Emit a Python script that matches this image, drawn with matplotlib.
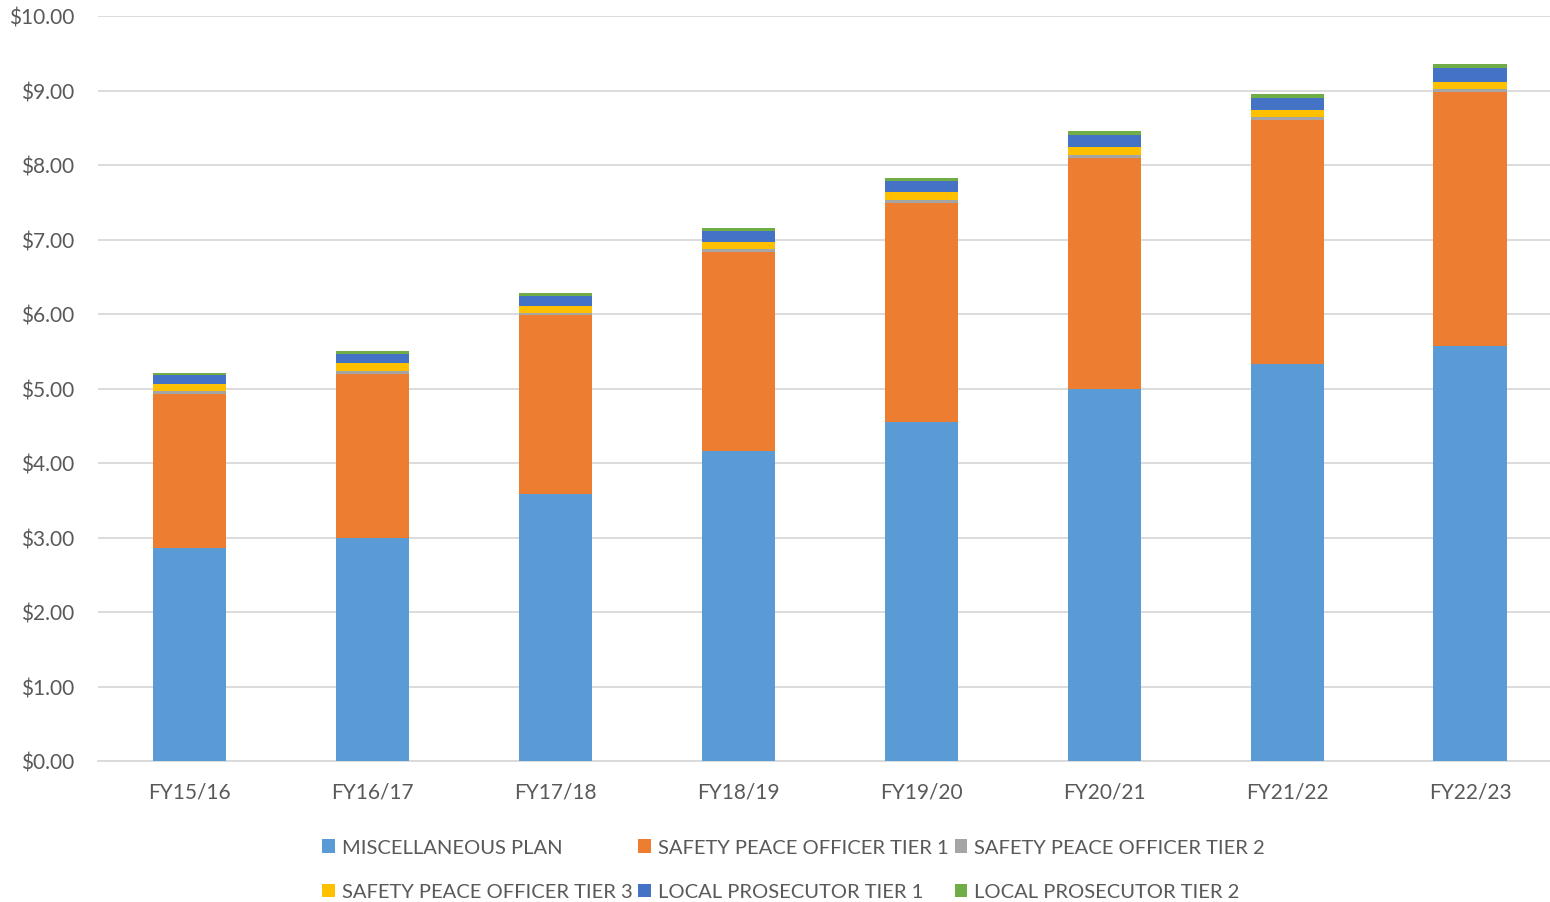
import matplotlib.pyplot as plt
import numpy as np

plt.rcParams["font.family"] = ["Lato", "DejaVu Sans"]

# data
years = ["FY15/16", "FY16/17", "FY17/18", "FY18/19", "FY19/20", "FY20/21", "FY21/22", "FY22/23"]
misc_plan = [2.86, 2.99, 3.58, 4.16, 4.55, 4.99, 5.33, 5.57]
safety_t1 = [2.07, 2.20, 2.40, 2.67, 2.94, 3.11, 3.27, 3.41]
safety_t2 = [0.04, 0.04, 0.03, 0.04, 0.04, 0.04, 0.04, 0.04]
safety_t3 = [0.09, 0.11, 0.10, 0.10, 0.11, 0.10, 0.10, 0.10]
prosecutor_t1 = [0.12, 0.12, 0.13, 0.14, 0.15, 0.16, 0.16, 0.18]
prosecutor_t2 = [0.03, 0.04, 0.04, 0.04, 0.04, 0.05, 0.05, 0.05]
y_ticks = [0, 1, 2, 3, 4, 5, 6, 7, 8, 9, 10]

series = [
    ("MISCELLANEOUS PLAN", misc_plan, "#5B9BD5"),
    ("SAFETY PEACE OFFICER TIER 1", safety_t1, "#ED7D31"),
    ("SAFETY PEACE OFFICER TIER 2", safety_t2, "#A5A5A5"),
    ("SAFETY PEACE OFFICER TIER 3", safety_t3, "#FFC000"),
    ("LOCAL PROSECUTOR TIER 1", prosecutor_t1, "#4472C4"),
    ("LOCAL PROSECUTOR TIER 2", prosecutor_t2, "#70AD47"),
]

txt = "#595959"
fig = plt.figure(figsize=(15.5, 9.03), dpi=100)
ax = fig.add_axes([98 / 1550, 1 - 762 / 903, (1561.5 - 98) / 1550, (762 - 17) / 903])

x = np.arange(len(years))
bottom = np.zeros(len(years))
handles = {}
for name, vals, color in series:
    bars = ax.bar(x, vals, width=0.4, bottom=bottom, color=color, zorder=3)
    handles[name] = bars
    bottom += np.array(vals)

ax.set_xlim(-0.5, 7.5)
ax.set_ylim(0, 10)
ax.set_yticks(y_ticks)
ax.set_yticklabels([f"${v:.2f}" for v in y_ticks])
ax.set_xticks(x)
ax.set_xticklabels(years)
ax.tick_params(length=0, labelsize=15, colors=txt)
ax.tick_params(axis="y", pad=17)
ax.tick_params(axis="x", pad=15)
ax.grid(axis="y", color="#D9D9D9", linewidth=1.3, zorder=0)
for s in ["top", "right", "left"]:
    ax.spines[s].set_visible(False)
ax.spines["bottom"].set_color("#D9D9D9")
ax.spines["bottom"].set_linewidth(1.3)

# legend fills column by column
order = ["MISCELLANEOUS PLAN", "SAFETY PEACE OFFICER TIER 3",
         "SAFETY PEACE OFFICER TIER 1", "LOCAL PROSECUTOR TIER 1",
         "SAFETY PEACE OFFICER TIER 2", "LOCAL PROSECUTOR TIER 2"]
leg = fig.legend([handles[n] for n in order], order, ncol=3, loc="upper left",
                 bbox_to_anchor=(312 / 1550, 1 - 830 / 903), frameon=False,
                 fontsize=14.5, handlelength=0.62, handleheight=0.62,
                 handletextpad=0.35, columnspacing=0.3, labelspacing=1.35,
                 labelcolor=txt, borderpad=0)

plt.savefig("out.png", dpi=100)
